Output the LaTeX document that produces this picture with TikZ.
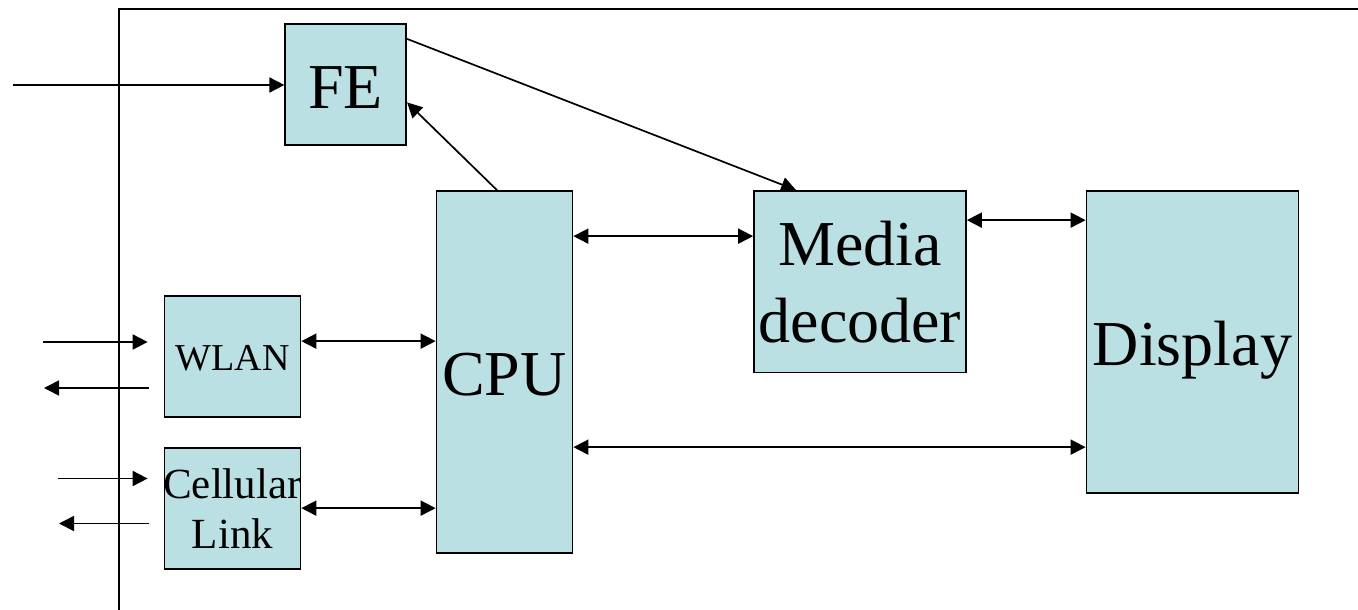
\documentclass[tikz,border=0pt]{standalone}
\usepackage{fontspec}
\setmainfont{Liberation Serif}
\usetikzlibrary{arrows.meta,calc}
\definecolor{boxfill}{RGB}{187,224,227}
\tikzset{
  blk/.style={draw=black, line width=1.7pt, fill=boxfill, inner sep=0pt, align=center},
  big/.style={font=\fontsize{64}{77}\selectfont},
  conn/.style={line width=1.7pt, -{Triangle[length=15pt,width=15pt]}},
  biconn/.style={line width=1.7pt, {Triangle[length=15pt,width=15pt]}-{Triangle[length=15pt,width=15pt]}},
  frameline/.style={line width=2pt}
}
\begin{document}
\begin{tikzpicture}[x=1pt,y=-1pt]
\useasboundingbox (0,0) rectangle (1358,610);

% enclosing system border
\draw[frameline] (119,610) -- (119,9.5) -- (1358,9.5);

% functional blocks
\node[blk, big, text height=48.5pt, text depth=0pt, minimum width=121pt, minimum height=121pt] (fe) at (345.75,84.75) {FE};
\node[blk, big, text height=46pt, text depth=0pt, minimum width=136pt, minimum height=362pt] (cpu) at (504.5,372) {CPU};
\node[blk, big, minimum width=212pt, minimum height=181.5pt] (media) at (860,281.75) {Media\\decoder};
\node[blk, big, text height=46pt, text depth=0pt, minimum width=212pt, minimum height=302pt] (disp) at (1192.5,342) {Display};
\node[blk, font=\fontsize{38}{46}\selectfont, text height=28.5pt, text depth=0pt, minimum width=136pt, minimum height=121pt] (wlan) at (232.5,356.5) {WLAN};
\node[blk, font=\fontsize{43}{50}\selectfont, minimum width=136pt, minimum height=121pt] (cell) at (232.5,508.5) {\makebox[0pt]{Cellular}\\\makebox[0pt]{Link}};

% external ends
\coordinate (antenna) at (13,85);
\coordinate (wlanrx) at (43,342);
\coordinate (wlantx) at (44,388);
\coordinate (cellrx) at (58,478.5);
\coordinate (celltx) at (59,523.5);

% tuner input and control
\draw[conn] (antenna) -- (antenna -| fe.west);
\draw[conn] ([xshift=-7.5pt]cpu.north) -- ([yshift=-79pt]fe.north east);
\draw[conn] ([yshift=-15.5pt]fe.north east) -- ([xshift=43pt]media.north west);

% data paths
\draw[biconn] ([yshift=-46pt]cpu.north east) -- ([yshift=-46pt]cpu.north east -| media.west);
\draw[biconn] ([yshift=-30pt]media.north east) -- ([yshift=-30pt]media.north east -| disp.west);
\draw[biconn] ([yshift=-257pt]cpu.north east) -- ([yshift=-257pt]cpu.north east -| disp.west);
\draw[biconn] ([yshift=-46pt]wlan.north east) -- ([yshift=-46pt]wlan.north east -| cpu.west);
\draw[biconn] ([yshift=-61pt]cell.north east) -- ([yshift=-61pt]cell.north east -| cpu.west);

% radio links
\draw[conn] (wlanrx) -- ([xshift=-16pt]wlanrx -| wlan.west);
\draw[conn] ([xshift=-14.5pt]wlantx -| wlan.west) -- (wlantx);
\draw[conn] (cellrx) -- ([xshift=-16pt]cellrx -| cell.west);
\draw[conn] ([xshift=-14.5pt]celltx -| cell.west) -- (celltx);
\end{tikzpicture}
\end{document}
